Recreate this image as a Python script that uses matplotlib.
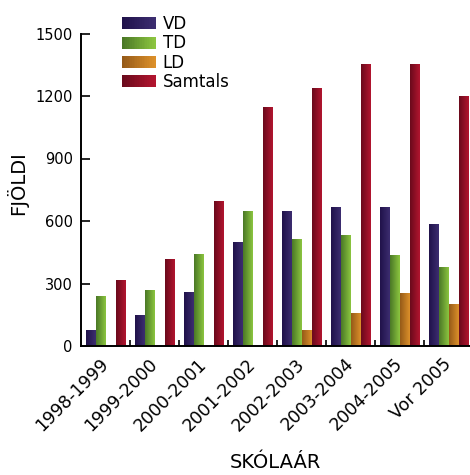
import numpy as np
import matplotlib
matplotlib.use("Agg")
from matplotlib import pyplot as plt
from matplotlib.colors import LinearSegmentedColormap
from matplotlib.legend_handler import HandlerBase
from matplotlib.patches import Rectangle

# data
years = ['1998-1999', '1999-2000', '2000-2001', '2001-2002',
         '2002-2003', '2003-2004', '2004-2005', 'Vor 2005']
vd = [78, 150, 258, 498, 647, 665, 665, 585]
td = [240, 268, 440, 647, 513, 532, 436, 379]
ld = [0, 0, 0, 0, 77, 158, 254, 201]
samtals = [318, 418, 698, 1146, 1237, 1355, 1356, 1200]

names = ['VD', 'TD', 'LD', 'Samtals']
# dark (left) -> light (right) for each series
grads = [('#20124a', '#3c2d70'),
         ('#4a7826', '#8cc540'),
         ('#955a18', '#dc902a'),
         ('#6a0a1c', '#b2152f')]

plt.rcParams['font.family'] = ['DejaVu Sans']

fig = plt.figure(figsize=(4.7, 4.75), dpi=100)
ax = fig.add_axes([81/470, 129/475, 389/470, 312.5/475])

x = np.arange(len(years))
w = 0.204
offs = [-0.296, -0.092, 0.112, 0.316]
series = [vd, td, ld, samtals]

grad_img = np.linspace(0, 1, 64).reshape(1, -1)
for vals, off, (c0, c1) in zip(series, offs, grads):
    cmap = LinearSegmentedColormap.from_list('g', [c0, c1])
    bars = ax.bar(x + off, vals, w, color='none', edgecolor='none')
    for r in bars:
        if r.get_height() <= 0:
            continue
        im = ax.imshow(grad_img, cmap=cmap, aspect='auto', interpolation='bilinear',
                       extent=[r.get_x(), r.get_x() + r.get_width(), 0, r.get_height()],
                       zorder=2)
        im.set_clip_path(r)

ax.set_xlim(-0.5, 7.44)
ax.set_ylim(0, 1500)
ax.set_yticks([0, 300, 600, 900, 1200, 1500])
ax.set_xticks(x)
ax.set_xticklabels(years, rotation=45, ha='right', va='center', rotation_mode='anchor', fontsize=12.5)
ax.set_xticks(x[:-1] + 0.5, minor=True)
ax.tick_params(axis='x', which='major', length=0, pad=11)
ax.tick_params(axis='x', which='minor', direction='in', length=4.5, width=1.2)
ax.tick_params(axis='y', direction='in', length=6.5, width=1.2, labelsize=10.5, pad=6)

for s in ['top', 'right']:
    ax.spines[s].set_visible(False)
for s in ['left', 'bottom']:
    ax.spines[s].set_linewidth(1.4)

ax.set_ylabel('FJÖLDI', fontsize=14)
ax.yaxis.set_label_coords(-0.135, 0.52)
ax.set_xlabel('SKÓLAÁR', fontsize=14, va='center')
ax.xaxis.set_label_coords(0.5, -0.372)


class GradHandler(HandlerBase):
    def __init__(self, c0, c1):
        super().__init__()
        self.cmap = LinearSegmentedColormap.from_list('g', [c0, c1])

    def create_artists(self, legend, orig, xd, yd, width, height, fontsize, trans):
        n = 20
        out = []
        for i in range(n):
            out.append(Rectangle((-xd + width * i / n, -yd), width / n + 0.3, height,
                                 facecolor=self.cmap(i / (n - 1)), edgecolor='none',
                                 transform=trans))
        return out


handles = [Rectangle((0, 0), 1, 1) for _ in names]
hmap = {h: GradHandler(*g) for h, g in zip(handles, grads)}
ax.legend(handles, names, handler_map=hmap, loc='upper left',
          bbox_to_anchor=(0.088, 1.08), frameon=False, fontsize=12,
          handlelength=2.0, handleheight=0.75, labelspacing=0.08, handletextpad=0.45,
          borderaxespad=0)

fig.savefig('out.png', dpi=100)
